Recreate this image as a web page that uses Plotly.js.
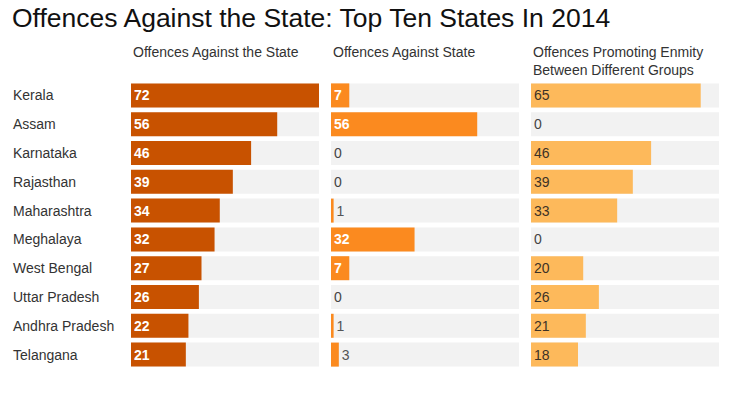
<!DOCTYPE html>
<html>
<head>
<meta charset="utf-8">
<script src="https://cdn.plot.ly/plotly-3.0.1.min.js"></script>
<style>html,body{margin:0;padding:0;background:#fff;}#chart{width:750px;height:398px;}</style>
</head>
<body>
<div id="chart"></div>
<script>
const states = ["Kerala","Assam","Karnataka","Rajasthan","Maharashtra","Meghalaya","West Bengal","Uttar Pradesh","Andhra Pradesh","Telangana"];
const totalOffences = [72,56,46,39,34,32,27,26,22,21];
const againstState = [7,56,0,0,1,32,7,0,1,3];
const promotingEnmity = [65,0,46,39,33,0,20,26,21,18];
const panelTitles = ["Offences Against the State","Offences Against State","Offences Promoting Enmity<br>Between Different Groups"];
const scaleMax = 72;

const FONT = "Liberation Sans, Arial, sans-serif";
const panels = [
  {vals: totalOffences, color: "#c85200", inColor: "#ffffff", weight: "bold", ax: "x"},
  {vals: againstState, color: "#fb8a1f", inColor: "#ffffff", weight: "bold", ax: "x2"},
  {vals: promotingEnmity, color: "#fdb95b", inColor: "#3d3226", weight: "normal", ax: "x3"}
];

const traces = [];
panels.forEach(p => {
  // grey background track; carries the "0" labels for zero-valued rows
  traces.push({
    type: "bar", orientation: "h", xaxis: p.ax, yaxis: "y",
    y: states, x: states.map(() => scaleMax),
    text: p.vals.map(v => v === 0 ? "0" : ""), textposition: "inside", insidetextanchor: "start",
    insidetextfont: {family: FONT, size: 14, color: "#444444"},
    marker: {color: "#f2f2f2"}, hoverinfo: "skip", showlegend: false
  });
  traces.push({
    type: "bar", orientation: "h", xaxis: p.ax, yaxis: "y",
    y: states, x: p.vals,
    text: p.vals.map(v => v === 0 ? "" : String(v)), textposition: "auto", insidetextanchor: "start",
    constraintext: "none", cliponaxis: false,
    insidetextfont: {family: FONT, size: 14, color: p.inColor, weight: p.weight},
    outsidetextfont: {family: FONT, size: 14, color: "#555555"},
    marker: {color: p.color}, hoverinfo: "skip", showlegend: false
  });
});

const annotations = [];
states.forEach(s => {
  annotations.push({
    xref: "paper", yref: "y", x: -120/588, y: s, xanchor: "left", yanchor: "middle",
    text: s, showarrow: false, font: {family: FONT, size: 14, color: "#333333"}
  });
});
["x","x2","x3"].forEach((ax, i) => {
  annotations.push({
    xref: ax + " domain", yref: "paper", x: 0, y: 1 + 39/288, xanchor: "left", yanchor: "top",
    align: "left", text: panelTitles[i], showarrow: false,
    font: {family: FONT, size: 14, color: "#333333"}
  });
});

const hiddenX = {range: [0, scaleMax], showgrid: false, zeroline: false, showticklabels: false, showline: false, fixedrange: true};
const layout = {
  width: 750, height: 398,
  margin: {l: 131, r: 31, t: 81, b: 29},
  paper_bgcolor: "#ffffff", plot_bgcolor: "#ffffff",
  barmode: "overlay", bargap: 0.167,
  title: {text: "Offences Against the State: Top Ten States In 2014", xref: "container", yref: "container",
          x: 12/750, xanchor: "left", y: 1 - 18/398, yanchor: "middle",
          font: {family: FONT, size: 26.5, color: "#111111"}},
  xaxis: Object.assign({domain: [0, 188/588]}, hiddenX),
  xaxis2: Object.assign({domain: [200/588, 388/588]}, hiddenX),
  xaxis3: Object.assign({domain: [400/588, 1]}, hiddenX),
  yaxis: {type: "category", autorange: "reversed", showticklabels: false, showgrid: false, zeroline: false, showline: false},
  annotations: annotations,
  showlegend: false
};

Plotly.newPlot("chart", traces, layout, {staticPlot: true, displayModeBar: false});
</script>
</body>
</html>
